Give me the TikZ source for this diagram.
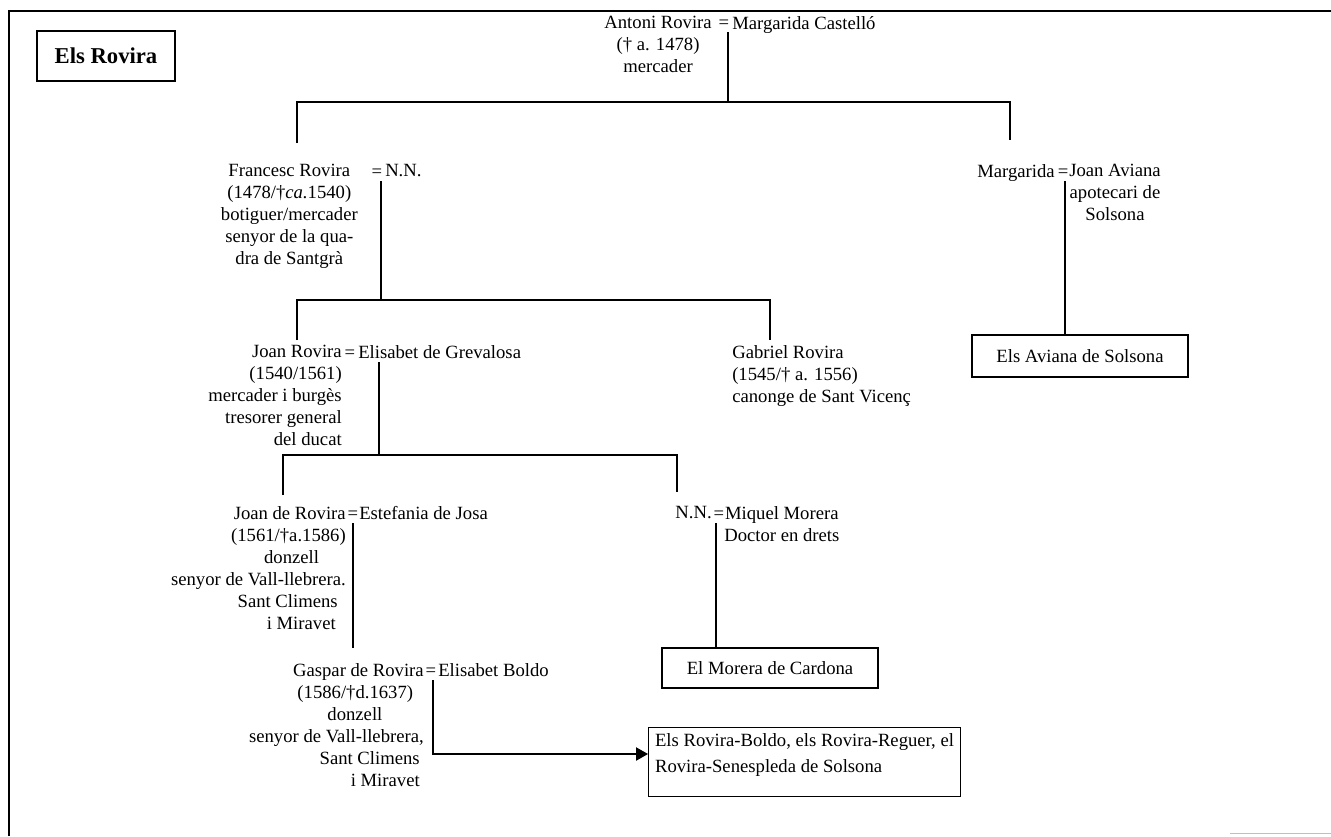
\documentclass[tikz,border=0pt]{standalone}
\usepackage{fontspec}
\setmainfont{Liberation Serif}
\usetikzlibrary{positioning,arrows.meta}
\tikzset
{
  person/.style   = {inner sep=0pt, font=\fontsize{14}{16.5}\selectfont},
  pleft/.style    = {person, anchor=north east, align=right},
  pright/.style   = {person, anchor=north west, align=left},
  eqsign/.style   = {person, anchor=base, inner ysep=3pt},
  famblock/.style = {draw=black, line width=0.8pt, inner sep=0pt, font=\fontsize{14}{16.5}\selectfont},
  titlebox/.style = {draw=black, line width=1.6pt, minimum width=103.5pt, minimum height=38pt, font=\fontsize{17}{20}\selectfont\bfseries},
  link/.style     = {line width=0.8pt}
}

\begin{document}
\begin{tikzpicture}[x=0.75pt, y=-0.75pt, >={Triangle[length=9pt,width=10pt]}]
  \useasboundingbox (0,0) rectangle (1331,836);
  % frame
  \draw[line width=2pt] (9,836) -- (9,11) -- (1331,11);
  \draw[gray!50, line width=0.5pt] (1230,833) -- (1331,833);
  \node[titlebox] (title) at (106,56) {Els Rovira};

  % first generation
  \node[pleft, align=center] (antoni) at (712,16) {Antoni Rovira\\(† a. 1478)\\mercader};
  \node[eqsign] (eqA) at (724,28) {=};
  \node[pright] (castello) at (732,16) {Margarida Castelló};
  \coordinate (jA) at (728,102);
  \coordinate (dFrancesc) at (297,143);
  \coordinate (dMargarida) at (1010,140);
  \draw[link] (eqA.south -| jA) -- (jA);
  \draw[link] (dFrancesc) |- (jA) -| (dMargarida);

  % second generation
  \node[pleft, align=center] (francesc) at (358,164) {Francesc Rovira\\(1478/†\textit{ca.}1540)\\botiguer/mercader\\senyor de la qua-\\dra de Santgrà};
  \node[eqsign] (eqB) at (377,177) {=};
  \node[pright] (nnB) at (385,164) {N.N.};
  \node[pleft] (margarida) at (1055,164) {Margarida};
  \node[eqsign] (eqC) at (1063,177) {=};
  \node[pright, align=center] (aviana) at (1069,164) {Joan Aviana\\apotecari de\\Solsona};
  \node[famblock, minimum width=162pt, minimum height=31.5pt] (avianabox) at (1080,356) {Els Aviana de Solsona};
  \coordinate (jB) at (381,300);
  \coordinate (jC) at (1065,335);
  \coordinate (dJoanR) at (297,340);
  \coordinate (dGabriel) at (770,340);
  \draw[link] (eqB.south -| jB) -- (jB);
  \draw[link] (dJoanR) |- (jB) -| (dGabriel);
  \draw[link] (eqC.south -| jC) -- (jC);

  % third generation
  \node[pleft] (joanR) at (342,345) {Joan Rovira\\(1540/1561)\\mercader i burgès\\tresorer general\\del ducat};
  \node[eqsign] (eqD) at (350,358) {=};
  \node[pright] (grevalosa) at (358,345) {Elisabet de Grevalosa};
  \node[pright] (gabriel) at (732,345) {Gabriel Rovira\\(1545/† a. 1556)\\canonge de Sant Vicenç};
  \coordinate (jD) at (379,455);
  \coordinate (dJoanDR) at (283,495);
  \coordinate (dNN) at (677,492);
  \draw[link] (eqD.south -| jD) -- (jD);
  \draw[link] (dJoanDR) |- (jD) -| (dNN);

  % fourth generation
  \node[pleft] (joanDR) at (346,506) {Joan de Rovira\\(1561/†a.1586)\\\mbox{donzell\hspace{20pt}}\\senyor de Vall-llebrera.\\\mbox{Sant Climens\hspace{6pt}}\\\mbox{i Miravet\hspace{7.5pt}}};
  \node[eqsign] (eqE) at (353,519) {=};
  \node[pright] (josa) at (359,506) {Estefania de Josa};
  \node[pleft] (nnF) at (712,506) {N.N.};
  \node[eqsign] (eqF) at (719,519) {=};
  \node[pright, align=center] (morera) at (724,506) {Miquel Morera\\Doctor en drets};
  \node[famblock, minimum width=162pt, minimum height=30pt] (morerabox) at (770,668) {El Morera de Cardona};
  \coordinate (jF) at (716,648);
  \coordinate (dGaspar) at (353,648);
  \draw[link] (eqE.south) -- (dGaspar);
  \draw[link] (eqF.south -| jF) -- (jF);

  % fifth generation
  \node[pleft] (gaspar) at (424,663) {Gaspar de Rovira\\\mbox{(1586/†d.1637)\hspace{8pt}}\\\mbox{donzell\hspace{31pt}}\\senyor de Vall-llebrera,\\\mbox{Sant Climens\hspace{3pt}}\\\mbox{i Miravet\hspace{3pt}}};
  \node[eqsign] (eqG) at (431,676) {=};
  \node[pright] (boldo) at (438,663) {Elisabet Boldo};
  \node[famblock, anchor=north west, minimum width=234pt, minimum height=52pt, align=left,
        font=\fontsize{14}{20}\selectfont] (roviradesc) at (648,727) {Els Rovira-Boldo, els Rovira-Reguer, el\\Rovira-Senespleda de Solsona\\[-6pt]};
  \coordinate (jG) at (433,754);
  \draw[link, ->] (eqG.south -| jG) -- (jG) -- (roviradesc.west |- jG);
\end{tikzpicture}
\end{document}
